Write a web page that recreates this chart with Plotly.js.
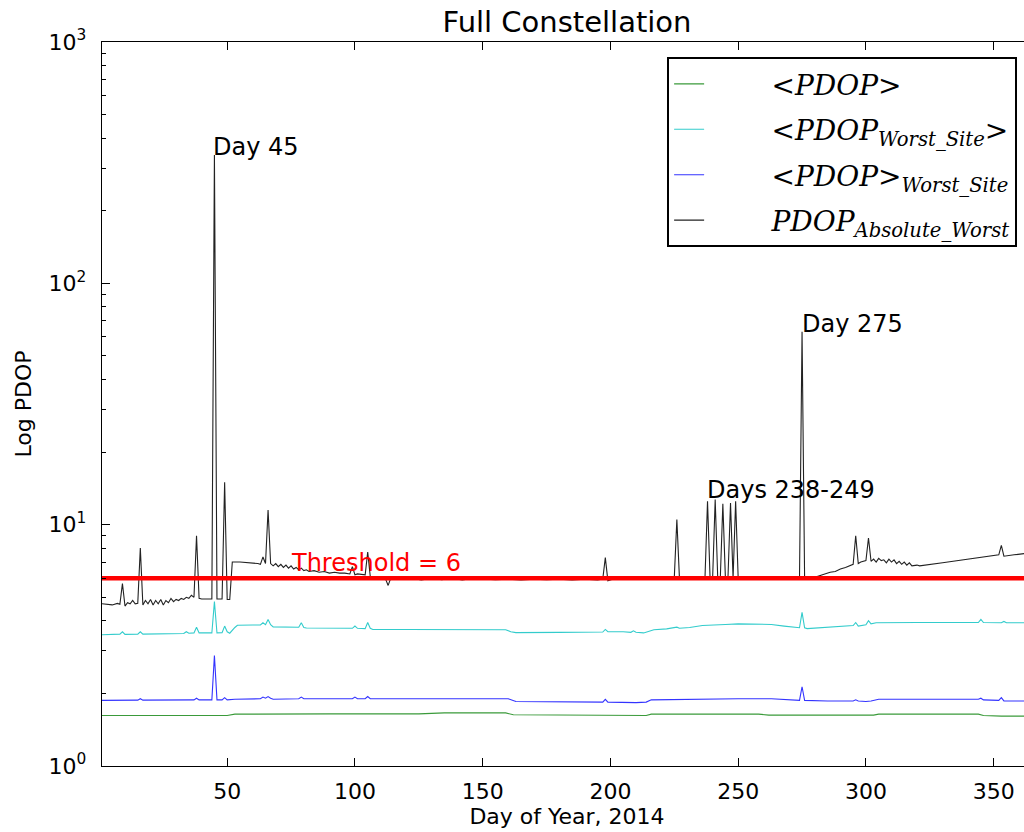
<!DOCTYPE html>
<html>
<head>
<meta charset="utf-8">
<script src="https://cdn.plot.ly/plotly-3.0.1.min.js"></script>
<style>
html, body { margin:0; padding:0; overflow:hidden; background:#fff; }
#chart { width:1034px; height:860px; }
</style>
</head>
<body>
<div id="chart"></div>
<script>
// ---------- data ----------
const THRESHOLD = 6;
const xTickVals = [50, 100, 150, 200, 250, 300, 350];
const yTickVals = [1, 10, 100, 1000];
const yTickText = ['10<sup>0</sup>', '10<sup>1</sup>', '10<sup>2</sup>', '10<sup>3</sup>'];
const yMinorVals = [2,3,4,5,6,7,8,9,20,30,40,50,60,70,80,90,200,300,400,500,600,700,800,900];

// <PDOP>  (green)
const meanDays = [1,20,40,45,50,53,70,90,110,125,135,150,159,162,175,200,214,216,240,258,262,275,290,303,305,330,344,346,353,365];
const meanPdop = [1.62,1.62,1.62,1.62,1.62,1.64,1.645,1.645,1.645,1.645,1.66,1.66,1.66,1.63,1.625,1.62,1.62,1.64,1.64,1.64,1.625,1.625,1.625,1.625,1.64,1.64,1.64,1.62,1.61,1.61];

// <PDOP_Worst_Site>  (cyan)
const worstSiteDays = [1,8,9,10,15,16,17,33,34,35,37,38,39,44,45,46,48,49,50,51,53,54,60,63,64,65,66,67,68,75,78,79,80,81,90,99,100,101,104,105,106,107,120,140,159,161,163,180,197,198,199,205,208,209,210,213,217,222,226,227,231,236,239,245,250,256,263,268,271,274,275,276,277,285,291,295,296,297,300,301,302,304,320,335,344,345,346,353,354,355,365];
const worstSitePdop = [3.50,3.52,3.60,3.51,3.52,3.60,3.52,3.54,3.60,3.55,3.56,3.76,3.56,3.56,4.80,3.56,3.57,3.80,3.60,3.55,3.75,3.83,3.84,3.84,3.92,3.85,4.05,3.85,3.77,3.75,3.76,3.92,3.75,3.73,3.72,3.72,3.80,3.72,3.71,3.93,3.72,3.68,3.68,3.67,3.67,3.60,3.57,3.58,3.59,3.68,3.60,3.60,3.58,3.63,3.58,3.56,3.67,3.70,3.76,3.72,3.75,3.82,3.84,3.86,3.88,3.87,3.86,3.80,3.76,3.74,4.33,3.74,3.71,3.76,3.80,3.82,3.93,3.80,3.85,4.00,3.88,3.92,3.93,3.92,3.93,4.05,3.93,3.92,3.97,3.92,3.92];

// <PDOP>_Worst_Site  (blue)
const meanWorstDays = [1,15,16,17,37,38,39,44,45,46,48,49,50,53,63,64,65,66,67,68,78,79,80,90,99,100,101,104,105,106,130,150,160,163,180,197,198,199,210,214,216,230,250,263,271,274,275,276,285,295,296,297,300,302,305,330,344,345,346,352,353,354,365];
const meanWorstPdop = [1.87,1.875,1.90,1.875,1.88,1.91,1.88,1.88,2.87,1.88,1.88,1.92,1.88,1.89,1.90,1.93,1.91,1.94,1.91,1.89,1.90,1.93,1.90,1.90,1.90,1.93,1.90,1.90,1.94,1.90,1.90,1.90,1.90,1.85,1.85,1.84,1.89,1.84,1.83,1.84,1.88,1.89,1.90,1.90,1.88,1.87,2.13,1.87,1.86,1.86,1.88,1.86,1.85,1.86,1.89,1.89,1.89,1.91,1.88,1.87,1.92,1.86,1.86];

// PDOP_Absolute_Worst  (black)
const absDays = [1,3,5,7,8,9,10,11,12,13,
  14,15,16,17,18,19,20,21,22,23,
  24,25,26,27,28,29,30,31,32,33,
  34,35,36,37,38,39,40,44,45,46,
  48,49,50,51,52,55,60,62,63,64,
  65,66,67,68,69,70,71,72,73,74,
  75,76,77,78,79,80,81,82,84,86,
  88,90,92,94,96,98,99,100,101,104,
  105,106,108,110,112,113,114,118,122,126,
  130,134,138,142,146,150,155,160,165,170,
  175,180,185,190,195,197,198,199,200,202,
  210,215,220,225,226,227,230,237,238,239,
  240,241,242,243,244,245,246,247,248,249,
  250,260,274,275,276,278,280,283,286,288,
  290,292,294,295,296,297,298,300,301,302,
  303,304,305,306,307,308,309,310,311,312,
  313,314,315,316,317,318,320,321,330,340,
  352,353,354,358,362,365];
const absPdop = [4.70,4.68,4.65,4.72,4.68,5.70,4.60,4.75,4.70,4.85,
  4.70,4.72,8.00,4.65,4.85,4.70,4.90,4.65,4.85,4.70,
  4.90,4.65,4.85,4.75,4.95,4.80,4.90,4.85,4.95,4.90,
  5.00,4.95,5.10,5.00,9.00,4.95,4.92,4.92,340,4.92,
  4.92,15.0,4.90,4.90,7.00,7.00,6.95,6.90,6.85,7.35,
  6.90,11.5,6.90,6.75,6.90,6.70,6.85,6.65,6.80,6.60,
  6.75,6.55,6.65,6.50,6.60,6.45,6.50,6.40,6.45,6.35,
  6.40,6.30,6.35,6.30,6.30,6.25,6.70,6.20,6.25,6.20,
  7.70,6.10,6.00,6.05,5.95,5.60,6.00,5.95,6.00,5.90,
  6.00,5.92,6.00,5.90,5.98,5.95,5.92,5.95,5.90,5.95,
  5.92,5.95,5.90,5.95,5.90,5.95,7.30,5.85,5.90,6.00,
  6.00,6.05,6.05,6.05,10.5,6.02,6.00,6.00,12.5,6.00,
  6.00,12.7,6.00,6.00,12.2,6.00,6.00,12.3,6.00,12.5,
  6.00,6.00,6.00,63.0,6.00,6.00,6.05,6.20,6.35,6.40,
  6.55,6.65,6.80,6.85,9.00,6.90,7.00,7.10,8.80,7.05,
  7.20,7.00,7.25,7.10,7.15,6.95,7.20,7.00,7.15,6.90,
  7.05,6.85,7.00,6.80,6.95,6.75,6.80,6.75,6.95,7.20,
  7.50,8.20,7.40,7.50,7.60,7.65];

const thresholdDays = [1, 365];

// ---------- chart ----------
const SANS = 'DejaVu Sans, Liberation Sans, sans-serif';
const SERIF = 'DejaVu Serif, Liberation Serif, serif';
const pad = '&nbsp;&nbsp;&nbsp;&nbsp;&nbsp;&nbsp;&nbsp;';
const H = 860;

const traces = [
  {x: meanDays, y: meanPdop, type:'scatter', mode:'lines', name: pad + '&lt;<i>PDOP</i>&gt;',
   line:{color:'#3a9a3a', width:1.1}, legendgroup:'a'},
  {x: worstSiteDays, y: worstSitePdop, type:'scatter', mode:'lines', name: pad + '&lt;<i>PDOP</i><sub><i>Worst_Site</i></sub>&gt;',
   line:{color:'#33cccc', width:1.1}, legendgroup:'b'},
  {x: meanWorstDays, y: meanWorstPdop, type:'scatter', mode:'lines', name: pad + '&lt;<i>PDOP</i>&gt;<sub><i>Worst_Site</i></sub>',
   line:{color:'#3333ff', width:1.1}, legendgroup:'c'},
  {x: absDays, y: absPdop, type:'scatter', mode:'lines', name: pad + '<i>PDOP</i><sub><i>Absolute_Worst</i></sub>',
   line:{color:'#222222', width:1.1}, legendgroup:'d'},
  {x: thresholdDays, y: thresholdDays.map(() => THRESHOLD), type:'scatter', mode:'lines', name:'Threshold',
   line:{color:'#ff0000', width:4.5}, showlegend:false, hoverinfo:'skip'}
];

const layout = {
  width: 1034, height: H,
  margin: {l:102, r:2, t:42, b:H-766},
  paper_bgcolor:'#ffffff', plot_bgcolor:'#ffffff',
  font: {family: SANS, size: 22, color:'#000'},
  title: {text:'Full Constellation', font:{family:SANS, size:29, color:'#000'},
          x:0.5, xref:'paper', xanchor:'center', y:1-22/H, yref:'container', yanchor:'middle'},
  showlegend: true,
  legend: {x:0.984, y:0.979, xanchor:'right', yanchor:'top',
           bgcolor:'#ffffff', bordercolor:'#000', borderwidth:2,
           font:{family:SERIF, size:28, color:'#000'},
           traceorder:'grouped', tracegroupgap:6},
  xaxis: {range:[1,365], tickmode:'array', tickvals:xTickVals,
          ticks:'inside', ticklen:8, tickwidth:1, tickcolor:'#000',
          showline:true, linecolor:'#000', linewidth:1.3, mirror:'ticks',
          showgrid:false, zeroline:false,
          tickfont:{family:SANS, size:22}, ticklabelstandoff:5,
          title:{text:'Day of Year, 2014', font:{family:SANS, size:22}, standoff:0}},
  yaxis: {type:'log', range:[0,3], tickmode:'array', tickvals:yTickVals, ticktext:yTickText,
          ticks:'inside', ticklen:8, tickwidth:1, tickcolor:'#000',
          minor:{tickmode:'array', tickvals:yMinorVals, ticks:'inside', ticklen:4, tickwidth:1, tickcolor:'#000', showgrid:false},
          showline:true, linecolor:'#000', linewidth:1.3, mirror:'ticks',
          showgrid:false, zeroline:false,
          tickfont:{family:SANS, size:22}, ticklabelstandoff:10,
          title:{text:'Log PDOP', font:{family:SANS, size:22}, standoff:10}},
  annotations: [
    {x:45, y:Math.log10(367), xref:'x', yref:'y', text:'Day 45', showarrow:false, xshift:-3,
     xanchor:'left', yanchor:'middle', font:{family:SANS, size:24, color:'#000'}},
    {x:275, y:Math.log10(68), xref:'x', yref:'y', text:'Day 275', showarrow:false, xshift:-2,
     xanchor:'left', yanchor:'middle', font:{family:SANS, size:24, color:'#000'}},
    {x:238, y:Math.log10(13.9), xref:'x', yref:'y', text:'Days 238-249', showarrow:false, xshift:-3,
     xanchor:'left', yanchor:'middle', font:{family:SANS, size:24, color:'#000'}},
    {x:75, y:Math.log10(6.94), xref:'x', yref:'y', text:'Threshold = 6', showarrow:false, xshift:-2,
     xanchor:'left', yanchor:'middle', font:{family:SANS, size:24, color:'#ff0000'}}
  ]
};

Plotly.newPlot('chart', traces, layout, {displayModeBar:false, staticPlot:true});
</script>
</body>
</html>
